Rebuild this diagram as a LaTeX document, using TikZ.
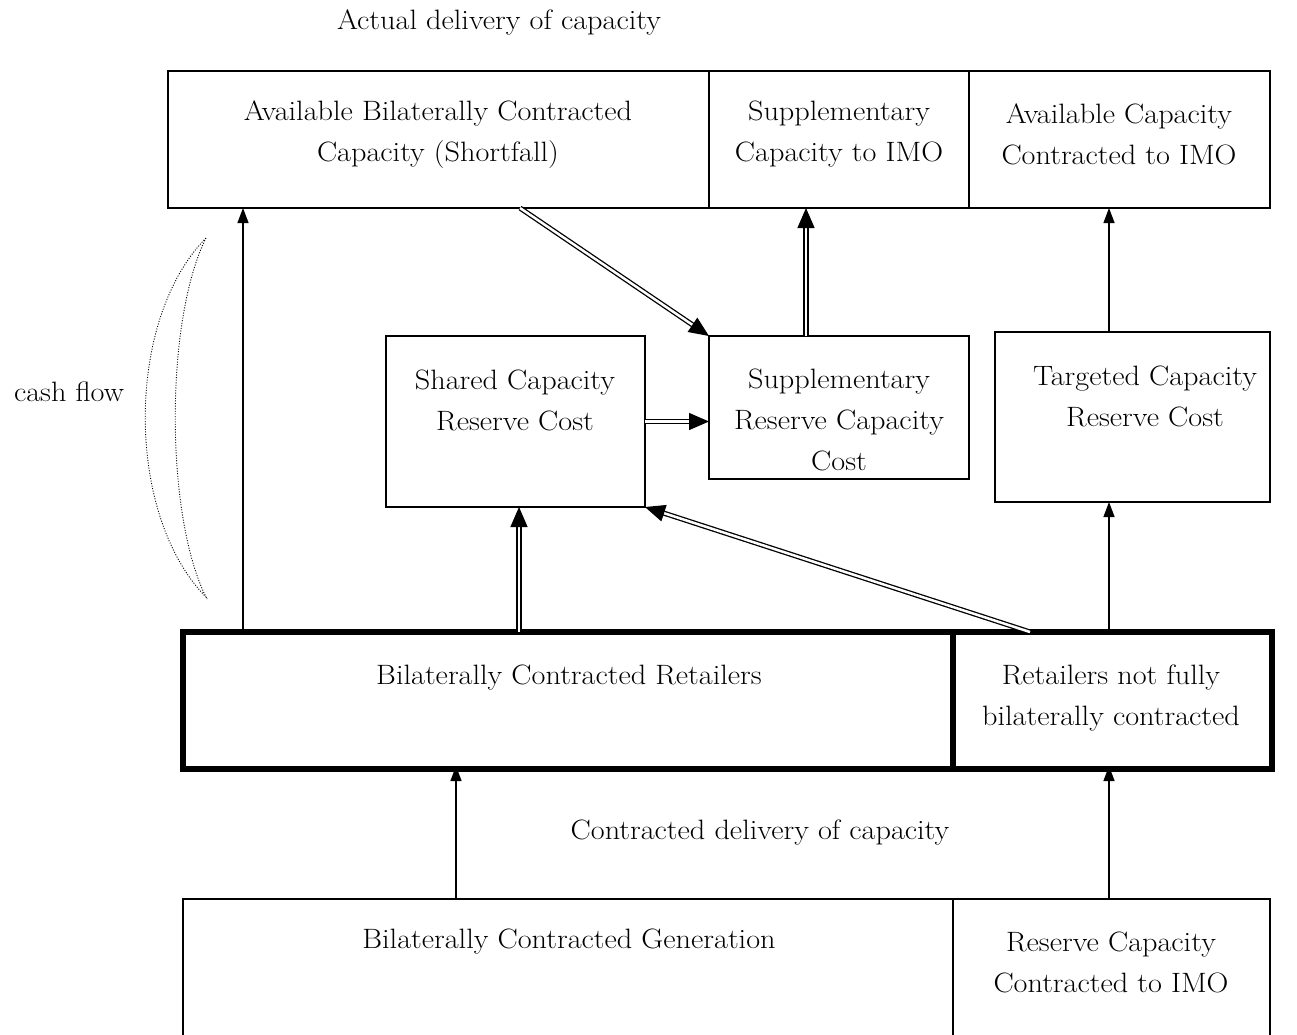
\documentclass[tikz,border=0pt]{standalone}
\usepackage{fontspec}
\setmainfont{Latin Modern Roman}[FakeStretch=1.08]
\usetikzlibrary{arrows.meta,calc}
\begin{document}
\begin{tikzpicture}[x=1pt,y=-1pt,
  box/.style={draw, line width=1.3pt, inner sep=0pt, outer sep=0pt},
  heavybox/.style={draw, line width=6pt, inner sep=0pt, outer sep=0pt},
  txt/.style={align=center, inner sep=0pt, font=\fontsize{28}{41}\selectfont},
  arr/.style={line width=1.3pt, -{Triangle[length=15pt,width=11pt]}},
  dbl/.style={double, double distance=2.5pt, line width=1.3pt, -{Triangle[length=20pt,width=17pt]}},
  cash/.style={line width=0.9pt, dash pattern=on 1pt off 1.6pt}]
\useasboundingbox (0,0) rectangle (1297,1034);
% boxes
\node[box, minimum width=541pt, minimum height=137pt] (avb) at (438.5,139.5) {};
\node[box, minimum width=260pt, minimum height=137pt] (sci) at (839,139.5) {};
\node[box, minimum width=301pt, minimum height=137pt] (acc) at (1119.5,139.5) {};
\node[box, minimum width=259pt, minimum height=171pt] (scr) at (515.5,421.5) {};
\node[box, minimum width=260pt, minimum height=143pt] (srcc) at (839,407.5) {};
\node[box, minimum width=275pt, minimum height=170pt] (tcr) at (1132.5,417) {};
\node[heavybox, minimum width=770pt, minimum height=137pt] (bcr) at (568,700.5) {};
\node[heavybox, minimum width=319pt, minimum height=137pt] (rnf) at (1112.5,700.5) {};
\node[minimum width=770pt, minimum height=141pt, inner sep=0pt, outer sep=0pt] (bcg) at (568,969.5) {};
\node[minimum width=317pt, minimum height=141pt, inner sep=0pt, outer sep=0pt] (rcc) at (1111.5,969.5) {};
\draw[line width=1.3pt] (bcg.south west) -- (bcg.north west) -- (bcg.north east) -- (bcg.south east);
\draw[line width=1.3pt] (rcc.north west) -- (rcc.north east) -- (rcc.south east);
% texts
\node[txt] (t0) at (499,22) {Actual delivery of capacity};
\node[txt] (t1) at (438,134.5) {Available Bilaterally Contracted\\Capacity (Shortfall)};
\node[txt] (t2) at (839,134.5) {Supplementary\\Capacity to IMO};
\node[txt] (t3) at (1119,134.5) {Available Capacity\\Contracted to IMO};
\node[txt] (t4) at (515,400) {Shared Capacity\\Reserve Cost};
\node[txt] (t5) at (839,420) {Supplementary\\Reserve Capacity\\Cost};
\node[txt] (t6) at (1145,396) {Targeted Capacity\\Reserve Cost};
\node[txt] (t7) at (69,392) {cash flow};
\node[txt] (t8) at (569,678) {Bilaterally Contracted Retailers};
\node[txt] (t9) at (1111,698) {Retailers not fully\\bilaterally contracted};
\node[txt] (t10) at (760,832) {Contracted delivery of capacity};
\node[txt] (t11) at (569,942) {Bilaterally Contracted Generation};
\node[txt] (t12) at (1111,962) {Reserve Capacity\\Contracted to IMO};
% cash flow crescent
\draw[cash] (206,238) .. controls (125,320) and (125,515) .. (206,597)
  .. controls (165,515) and (165,320) .. (206,238);
% arrows
\draw[arr] ([xshift=60pt]bcr.north west) -- ([xshift=75pt]avb.south west);
\draw[dbl] ([xshift=352pt]avb.south west) -- (srcc.north west);
\draw[dbl] ([xshift=97pt]srcc.north west) -- ([xshift=97pt]sci.south west);
\draw[arr] ([xshift=114pt]tcr.north west) -- ([xshift=140pt]acc.south west);
\draw[dbl] (scr.east) -- (scr.east -| srcc.west);
\draw[dbl] ([xshift=336pt]bcr.north west) -- ([xshift=133pt]scr.south west);
\draw[dbl] ([xshift=77pt]rnf.north west) -- (scr.south east);
\draw[arr] ([xshift=156pt]rnf.north west) -- ([xshift=114pt]tcr.south west);
\draw[arr] ([xshift=273pt]bcg.north west) -- ([xshift=273pt,yshift=3pt]bcr.south west);
\draw[arr] ([xshift=156pt]rcc.north west) -- ([xshift=156pt,yshift=3pt]rnf.south west);
\end{tikzpicture}
\end{document}
